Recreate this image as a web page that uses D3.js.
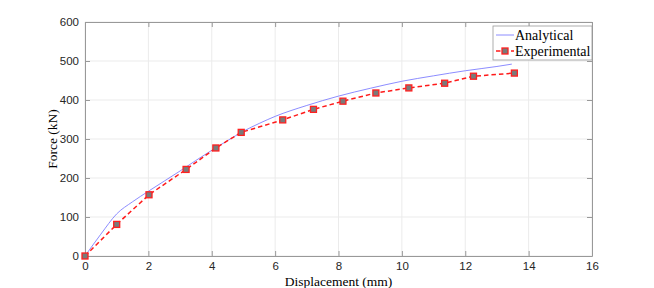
<!DOCTYPE html>
<html>
<head>
<meta charset="utf-8">
<script src="https://cdn.jsdelivr.net/npm/d3@7"></script>
<style>
  body { margin: 0; background: #fff; }
  svg { display: block; }
</style>
</head>
<body>
<div id="chart"></div>
<script>
// data
const analyticalX = [0, 0.5, 1, 1.5, 2, 2.5, 3, 3.5, 4, 4.5, 5, 5.5, 6, 7, 8, 9, 10, 11, 12, 13, 13.47];
const analyticalY = [0, 56, 108, 139, 166, 192, 218, 245, 271, 296, 320, 340, 358, 386, 410, 430, 448, 462, 475, 486, 492];
const experimentalX = [0, 1.0, 2.02, 3.19, 4.13, 4.93, 6.24, 7.21, 8.14, 9.18, 10.22, 11.35, 12.26, 13.55];
const experimentalY = [0, 81, 157, 222, 277, 317, 349, 376, 397, 418, 431, 443, 461, 469];
const xTicks = [0, 2, 4, 6, 8, 10, 12, 14, 16];
const yTicks = [0, 100, 200, 300, 400, 500, 600];
const seriesNames = ["Analytical", "Experimental"];

const W = 654, H = 288;
const margin = {top: 22, right: 62, bottom: 32, left: 85};
const width = W - margin.left - margin.right,
      height = H - margin.top - margin.bottom;

const svg = d3.select("#chart").append("svg")
  .attr("width", W).attr("height", H);
const g = svg.append("g")
  .attr("transform", "translate(" + margin.left + "," + margin.top + ")");

const x = d3.scaleLinear().domain([0, 16]).range([0, width]);
const y = d3.scaleLinear().domain([0, 600]).range([height, 0]);

// grid
g.selectAll(".gx").data(xTicks).enter().append("line")
  .attr("x1", d => x(d)).attr("x2", d => x(d))
  .attr("y1", 0).attr("y2", height)
  .attr("stroke", "#ebebeb").attr("stroke-width", 1);
g.selectAll(".gy").data(yTicks).enter().append("line")
  .attr("x1", 0).attr("x2", width)
  .attr("y1", d => y(d)).attr("y2", d => y(d))
  .attr("stroke", "#ebebeb").attr("stroke-width", 1);

// axes (ticks inward, box all round)
const tickFont = "'Liberation Sans', Arial, sans-serif";
function styleAxis(sel) {
  sel.select(".domain").attr("stroke", "#999");
  sel.selectAll(".tick line").attr("stroke", "#999");
  sel.selectAll(".tick text").attr("fill", "#262626")
    .style("font-family", tickFont).style("font-size", "11.5px");
}
g.append("g").attr("transform", "translate(0," + height + ")")
  .call(d3.axisBottom(x).tickValues(xTicks).tickSize(-5).tickSizeOuter(0).tickPadding(6))
  .call(styleAxis);
g.append("g")
  .call(d3.axisLeft(y).tickValues(yTicks).tickSize(-5).tickSizeOuter(0).tickPadding(6))
  .call(styleAxis);
g.append("g")
  .call(d3.axisTop(x).tickValues(xTicks).tickSize(-5).tickSizeOuter(0).tickFormat(""))
  .call(styleAxis);
g.append("g").attr("transform", "translate(" + width + ",0)")
  .call(d3.axisRight(y).tickValues(yTicks).tickSize(-5).tickSizeOuter(0).tickFormat(""))
  .call(styleAxis);

// lines
const analytical = analyticalX.map((d, i) => [d, analyticalY[i]]);
const experimental = experimentalX.map((d, i) => [d, experimentalY[i]]);
const line = d3.line().x(d => x(d[0])).y(d => y(d[1])).curve(d3.curveMonotoneX);

g.append("path").datum(analytical)
  .attr("d", line).attr("fill", "none")
  .attr("stroke", "#7f7fff").attr("stroke-width", 0.9);

g.append("path").datum(experimental)
  .attr("d", d3.line().x(d => x(d[0])).y(d => y(d[1])))
  .attr("fill", "none").attr("stroke", "#ff1a1a")
  .attr("stroke-width", 1.5).attr("stroke-dasharray", "4.5,3");

g.selectAll(".mk").data(experimental).enter().append("rect")
  .attr("x", d => x(d[0]) - 3).attr("y", d => y(d[1]) - 3)
  .attr("width", 6).attr("height", 6)
  .attr("fill", "#7a7a7a").attr("stroke", "#ff2020").attr("stroke-width", 1.3);

// axis labels
const serif = "'Liberation Serif', 'DejaVu Serif', serif";
svg.append("text")
  .attr("x", margin.left + width / 2).attr("y", 286)
  .attr("text-anchor", "middle")
  .style("font-family", serif).style("font-size", "13.5px")
  .text("Displacement (mm)");
svg.append("text")
  .attr("transform", "translate(57," + (margin.top + height / 2) + ") rotate(-90)")
  .attr("text-anchor", "middle")
  .style("font-family", serif).style("font-size", "13.5px")
  .text("Force (kN)");

// legend
const lg = svg.append("g").attr("transform", "translate(493,26)");
lg.append("rect").attr("width", 99).attr("height", 34)
  .attr("fill", "#fff").attr("stroke", "#999").attr("stroke-width", 0.8);
lg.append("line").attr("x1", 3).attr("x2", 21).attr("y1", 9).attr("y2", 9)
  .attr("stroke", "#7f7fff").attr("stroke-width", 0.9);
lg.append("line").attr("x1", 3).attr("x2", 21).attr("y1", 25).attr("y2", 25)
  .attr("stroke", "#ff1a1a").attr("stroke-width", 1.5).attr("stroke-dasharray", "4.5,3");
lg.append("rect").attr("x", 9).attr("y", 22).attr("width", 6).attr("height", 6)
  .attr("fill", "#7a7a7a").attr("stroke", "#ff2020").attr("stroke-width", 1.3);
lg.selectAll(".lt").data(seriesNames).enter().append("text")
  .attr("x", 22).attr("y", (d, i) => 13.5 + i * 16)
  .style("font-family", serif).style("font-size", "14px")
  .text(d => d);
</script>
</body>
</html>
